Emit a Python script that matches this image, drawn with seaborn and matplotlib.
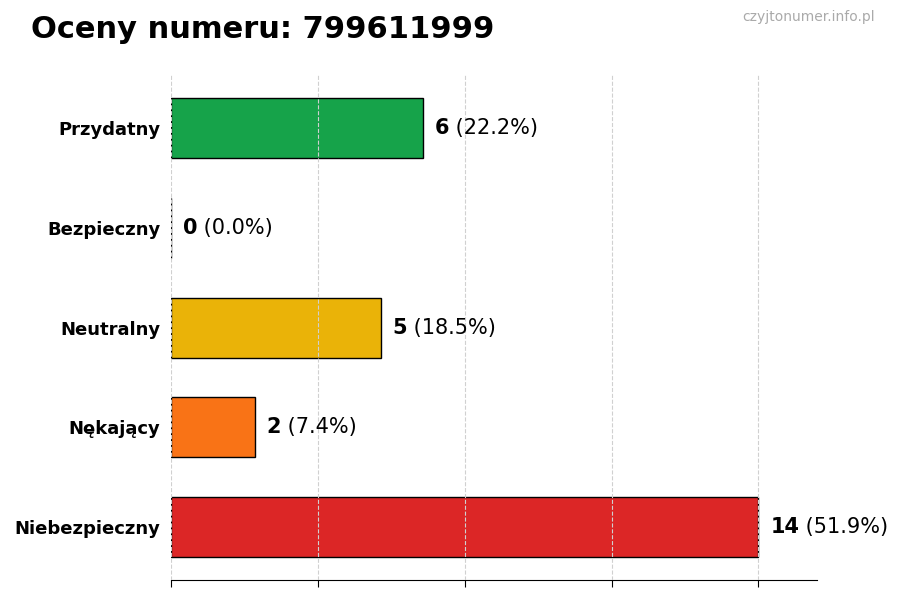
import pandas as pd
import numpy as np
import matplotlib
matplotlib.use("Agg")
import matplotlib.pyplot as plt
import seaborn as sns

# data
categories = ["Przydatny", "Bezpieczny", "Neutralny", "Nękający", "Niebezpieczny"]
counts = [6, 0, 5, 2, 14]
colors = ["#16a34a", "#3b82f6", "#eab308", "#f97316", "#dc2626"]
phone = "799611999"

total = sum(counts)
df = pd.DataFrame({"kategoria": categories, "liczba": counts})

sns.set_style("white")
plt.rcParams["font.family"] = ["DejaVu Sans"]
plt.rcParams["text.color"] = "black"
plt.rcParams["xtick.color"] = "black"
plt.rcParams["ytick.color"] = "black"
plt.rcParams["axes.labelcolor"] = "black"

fig = plt.figure(figsize=(9, 6), dpi=100)
ax = fig.add_axes([0.19, 0.033, 0.718, 0.842])

sns.barplot(data=df, x="liczba", y="kategoria", hue="kategoria",
            palette=colors, order=categories, orient="h", width=0.6,
            saturation=1, edgecolor="black", linewidth=1, legend=False, ax=ax)

xmax = max(counts)
ax.set_xlim(0, xmax * 1.1)
ax.set_ylim(len(categories) - 1 + 0.53, -0.53)
ax.set_xticks(np.linspace(0, xmax, 5))
ax.set_xticklabels([])
ax.set_xlabel("")
ax.set_ylabel("")
ax.tick_params(axis="y", labelsize=13, length=4, color="black", labelcolor="black")
ax.tick_params(axis="x", length=5, color="black", direction="out", bottom=True)
for lab in ax.get_yticklabels():
    lab.set_fontweight("bold")

for side in ["top", "right", "left"]:
    ax.spines[side].set_visible(False)
ax.spines["bottom"].set_color("black")

ax.xaxis.grid(True, linestyle="--", color="#d0d0d0", linewidth=0.8, zorder=5)
ax.set_axisbelow(False)

# value labels: bold count + normal percentage
for i, c in enumerate(counts):
    pct = c / total * 100 if total else 0
    t1 = ax.text(c + xmax * 0.02, i, f"{c}", fontsize=15, fontweight="bold",
                 va="center", ha="left", color="black")
    ax.annotate(f" ({pct:.1f}%)", xy=(1, 0), xycoords=t1, fontsize=15,
                va="bottom", ha="left", color="black")

fig.text(0.034, 0.95, f"Oceny numeru: {phone}", fontsize=22, fontweight="bold",
         ha="left", va="center", color="black")
fig.text(0.972, 0.972, "czyjtonumer.info.pl", fontsize=10, color="#aaaaaa",
         ha="right", va="center")

fig.savefig("out.png", dpi=100)
